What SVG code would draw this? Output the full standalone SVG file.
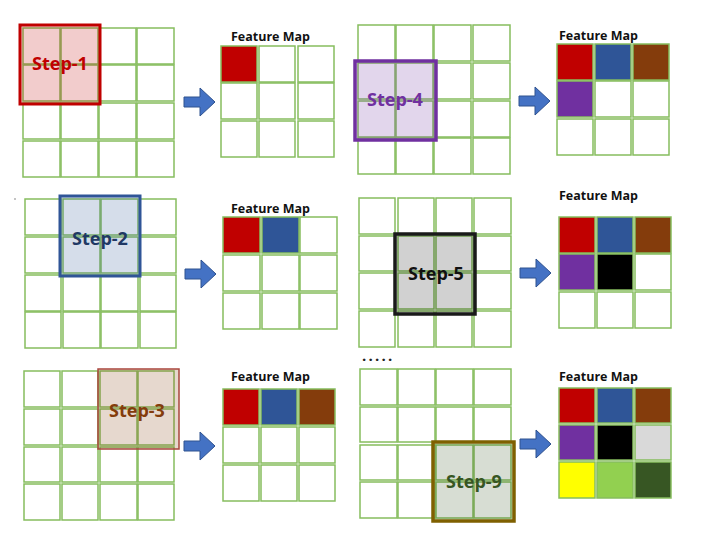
<svg xmlns="http://www.w3.org/2000/svg" xmlns:xlink="http://www.w3.org/1999/xlink" width="713" height="543" viewBox="0 0 713 543">
<defs>
<style>
.c{fill:#fff;stroke:#86bd5e;stroke-width:1.5}
.step{font-family:"Open Sans","Noto Sans",sans-serif;font-weight:700;font-size:18px;text-anchor:middle}
.fmt{font-family:"Open Sans","Noto Sans",sans-serif;font-weight:700;font-size:12.5px;fill:#111}
.arr{fill:#4472c4;stroke:#2f528f;stroke-width:1}
</style>
<path id="arrow" class="arr" d="M0,9 H16 V0 L31,14 L16,28 V19 H0 Z"/>
</defs>
<rect width="713" height="543" fill="#fff"/>

<g id="step1">
<g>
<rect class="c" x="23" y="28" width="37" height="36"/><rect class="c" x="61" y="28" width="37" height="36"/><rect class="c" x="99" y="28" width="37" height="36"/><rect class="c" x="137" y="28" width="37" height="36"/>
<rect class="c" x="23" y="65" width="37" height="36"/><rect class="c" x="61" y="65" width="37" height="36"/><rect class="c" x="99" y="65" width="37" height="36"/><rect class="c" x="137" y="65" width="37" height="36"/>
<rect class="c" x="23" y="103" width="37" height="36"/><rect class="c" x="61" y="103" width="37" height="36"/><rect class="c" x="99" y="103" width="37" height="36"/><rect class="c" x="137" y="103" width="37" height="36"/>
<rect class="c" x="23" y="141" width="37" height="36"/><rect class="c" x="61" y="141" width="37" height="36"/><rect class="c" x="99" y="141" width="37" height="36"/><rect class="c" x="137" y="141" width="37" height="36"/>
</g>
<rect x="20" y="25" width="80" height="79" fill="#c00000" fill-opacity="0.2" stroke="#c00000" stroke-width="3"/>
<text class="step" x="60" y="70" fill="#c00000">Step-1</text>
</g>

<g id="fm1">
<text class="fmt" x="231" y="41">Feature Map</text>
<rect class="c" x="221" y="46" width="36" height="36" style="fill:#c00000"/><rect class="c" x="259" y="46" width="36" height="36"/><rect class="c" x="298" y="46" width="36" height="36"/>
<rect class="c" x="221" y="83" width="36" height="36"/><rect class="c" x="259" y="83" width="36" height="36"/><rect class="c" x="298" y="83" width="36" height="36"/>
<rect class="c" x="221" y="121" width="36" height="36"/><rect class="c" x="259" y="121" width="36" height="36"/><rect class="c" x="298" y="121" width="36" height="36"/>
</g>

<g id="step4">
<g>
<rect class="c" x="358" y="25" width="37" height="36"/><rect class="c" x="396" y="25" width="37" height="36"/><rect class="c" x="434" y="25" width="37" height="36"/><rect class="c" x="473" y="25" width="37" height="36"/>
<rect class="c" x="358" y="63" width="37" height="36"/><rect class="c" x="396" y="63" width="37" height="36"/><rect class="c" x="434" y="63" width="37" height="36"/><rect class="c" x="473" y="63" width="37" height="36"/>
<rect class="c" x="358" y="101" width="37" height="36"/><rect class="c" x="396" y="101" width="37" height="36"/><rect class="c" x="434" y="101" width="37" height="36"/><rect class="c" x="473" y="101" width="37" height="36"/>
<rect class="c" x="358" y="138" width="37" height="36"/><rect class="c" x="396" y="138" width="37" height="36"/><rect class="c" x="434" y="138" width="37" height="36"/><rect class="c" x="473" y="138" width="37" height="36"/>
</g>
<rect x="355" y="61" width="81" height="79" fill="#7030a0" fill-opacity="0.2" stroke="#7030a0" stroke-width="3.5"/>
<text class="step" x="395" y="106" fill="#7030a0">Step-4</text>
</g>

<g id="fm4">
<text class="fmt" x="559" y="40">Feature Map</text>
<rect class="c" x="557" y="44" width="36" height="36" style="fill:#c00000"/><rect class="c" x="595" y="44" width="36" height="36" style="fill:#2f5597"/><rect class="c" x="633" y="44" width="36" height="36" style="fill:#843c0c"/>
<rect class="c" x="557" y="81" width="36" height="36" style="fill:#7030a0"/><rect class="c" x="595" y="81" width="36" height="36"/><rect class="c" x="633" y="81" width="36" height="36"/>
<rect class="c" x="557" y="119" width="36" height="36"/><rect class="c" x="595" y="119" width="36" height="36"/><rect class="c" x="633" y="119" width="36" height="36"/>
</g>

<circle cx="15" cy="199" r="1" fill="#b0b0b0"/>

<g id="step2">
<g>
<rect class="c" x="25" y="199" width="36" height="36"/><rect class="c" x="63" y="199" width="37" height="36"/><rect class="c" x="101" y="199" width="37" height="36"/><rect class="c" x="140" y="199" width="36" height="36"/>
<rect class="c" x="25" y="237" width="36" height="36"/><rect class="c" x="63" y="237" width="37" height="36"/><rect class="c" x="101" y="237" width="37" height="36"/><rect class="c" x="140" y="237" width="36" height="36"/>
<rect class="c" x="25" y="275" width="36" height="36"/><rect class="c" x="63" y="275" width="37" height="36"/><rect class="c" x="101" y="275" width="37" height="36"/><rect class="c" x="140" y="275" width="36" height="36"/>
<rect class="c" x="25" y="312" width="36" height="36"/><rect class="c" x="63" y="312" width="37" height="36"/><rect class="c" x="101" y="312" width="37" height="36"/><rect class="c" x="140" y="312" width="36" height="36"/>
</g>
<rect x="60" y="196" width="80" height="80" fill="#2f5597" fill-opacity="0.2" stroke="#2f5597" stroke-width="3"/>
<text class="step" x="100" y="245" fill="#203864">Step-2</text>
</g>

<g id="fm2">
<text class="fmt" x="231" y="213">Feature Map</text>
<rect class="c" x="223" y="217" width="37" height="36" style="fill:#c00000"/><rect class="c" x="262" y="217" width="37" height="36" style="fill:#2f5597"/><rect class="c" x="300" y="217" width="37" height="36"/>
<rect class="c" x="223" y="255" width="37" height="36"/><rect class="c" x="262" y="255" width="37" height="36"/><rect class="c" x="300" y="255" width="37" height="36"/>
<rect class="c" x="223" y="293" width="37" height="36"/><rect class="c" x="262" y="293" width="37" height="36"/><rect class="c" x="300" y="293" width="37" height="36"/>
</g>

<g id="step5">
<g>
<rect class="c" x="359" y="198" width="36" height="36"/><rect class="c" x="398" y="198" width="36" height="36"/><rect class="c" x="436" y="198" width="36" height="36"/><rect class="c" x="474" y="198" width="37" height="36"/>
<rect class="c" x="359" y="236" width="36" height="35"/><rect class="c" x="398" y="236" width="36" height="35"/><rect class="c" x="436" y="236" width="36" height="35"/><rect class="c" x="474" y="236" width="37" height="35"/>
<rect class="c" x="359" y="273" width="36" height="36"/><rect class="c" x="398" y="273" width="36" height="36"/><rect class="c" x="436" y="273" width="36" height="36"/><rect class="c" x="474" y="273" width="37" height="36"/>
<rect class="c" x="359" y="311" width="36" height="36"/><rect class="c" x="398" y="311" width="36" height="36"/><rect class="c" x="436" y="311" width="36" height="36"/><rect class="c" x="474" y="311" width="37" height="36"/>
</g>
<rect x="395" y="234" width="80" height="80" fill="#000" fill-opacity="0.18" stroke="#1a1a1a" stroke-width="3.5"/>
<text class="step" x="436" y="280" fill="#111">Step-5</text>
<text x="362" y="361" font-family="Open Sans, Noto Sans, sans-serif" font-weight="700" font-size="15" letter-spacing="2.2" fill="#222">.....</text>
</g>

<g id="fm5">
<text class="fmt" x="559" y="200">Feature Map</text>
<rect class="c" x="559" y="217" width="36" height="36" style="fill:#c00000"/><rect class="c" x="597" y="217" width="36" height="36" style="fill:#2f5597"/><rect class="c" x="635" y="217" width="36" height="36" style="fill:#843c0c"/>
<rect class="c" x="559" y="254" width="36" height="36" style="fill:#7030a0"/><rect class="c" x="597" y="254" width="36" height="36" style="fill:#000"/><rect class="c" x="635" y="254" width="36" height="36"/>
<rect class="c" x="559" y="292" width="36" height="36"/><rect class="c" x="597" y="292" width="36" height="36"/><rect class="c" x="635" y="292" width="36" height="36"/>
</g>

<g id="step3">
<g>
<rect class="c" x="24" y="371" width="36" height="36"/><rect class="c" x="62" y="371" width="36" height="36"/><rect class="c" x="100" y="371" width="37" height="36"/><rect class="c" x="138" y="371" width="36" height="36"/>
<rect class="c" x="24" y="409" width="36" height="36"/><rect class="c" x="62" y="409" width="36" height="36"/><rect class="c" x="100" y="409" width="37" height="36"/><rect class="c" x="138" y="409" width="36" height="36"/>
<rect class="c" x="24" y="447" width="36" height="35"/><rect class="c" x="62" y="447" width="36" height="35"/><rect class="c" x="100" y="447" width="37" height="35"/><rect class="c" x="138" y="447" width="36" height="35"/>
<rect class="c" x="24" y="484" width="36" height="36"/><rect class="c" x="62" y="484" width="36" height="36"/><rect class="c" x="100" y="484" width="37" height="36"/><rect class="c" x="138" y="484" width="36" height="36"/>
</g>
<rect x="98" y="369" width="81" height="80" fill="#843c0c" fill-opacity="0.2" stroke="#a9463d" stroke-width="1.5"/>
<text class="step" x="137" y="417" fill="#843c0c">Step-3</text>
</g>

<g id="fm3">
<text class="fmt" x="231" y="381">Feature Map</text>
<rect class="c" x="223" y="389" width="36" height="36" style="fill:#c00000"/><rect class="c" x="261" y="389" width="36" height="36" style="fill:#2f5597"/><rect class="c" x="299" y="389" width="36" height="36" style="fill:#843c0c"/>
<rect class="c" x="223" y="427" width="36" height="36"/><rect class="c" x="261" y="427" width="36" height="36"/><rect class="c" x="299" y="427" width="36" height="36"/>
<rect class="c" x="223" y="465" width="36" height="36"/><rect class="c" x="261" y="465" width="36" height="36"/><rect class="c" x="299" y="465" width="36" height="36"/>
</g>

<g id="step9">
<g>
<rect class="c" x="360" y="369" width="37" height="36"/><rect class="c" x="398" y="369" width="37" height="36"/><rect class="c" x="436" y="369" width="37" height="36"/><rect class="c" x="474" y="369" width="37" height="36"/>
<rect class="c" x="360" y="407" width="37" height="35"/><rect class="c" x="398" y="407" width="37" height="35"/><rect class="c" x="436" y="407" width="37" height="35"/><rect class="c" x="474" y="407" width="37" height="35"/>
<rect class="c" x="360" y="445" width="37" height="35"/><rect class="c" x="398" y="445" width="37" height="35"/><rect class="c" x="436" y="445" width="37" height="35"/><rect class="c" x="474" y="445" width="37" height="35"/>
<rect class="c" x="360" y="482" width="37" height="36"/><rect class="c" x="398" y="482" width="37" height="36"/><rect class="c" x="436" y="482" width="37" height="36"/><rect class="c" x="474" y="482" width="37" height="36"/>
</g>
<rect x="433" y="442" width="81" height="79" fill="#375623" fill-opacity="0.2" stroke="#7f6000" stroke-width="3.5"/>
<text class="step" x="474" y="488" fill="#375623">Step-9</text>
</g>

<g id="fm9">
<text class="fmt" x="559" y="381">Feature Map</text>
<rect class="c" x="559" y="388" width="36" height="35" style="fill:#c00000"/><rect class="c" x="597" y="388" width="36" height="35" style="fill:#2f5597"/><rect class="c" x="635" y="388" width="36" height="35" style="fill:#843c0c"/>
<rect class="c" x="559" y="425" width="36" height="35" style="fill:#7030a0"/><rect class="c" x="597" y="425" width="36" height="35" style="fill:#000"/><rect class="c" x="635" y="425" width="36" height="35" style="fill:#d9d9d9"/>
<rect class="c" x="559" y="462" width="36" height="36" style="fill:#ffff00"/><rect class="c" x="597" y="462" width="36" height="36" style="fill:#92d050"/><rect class="c" x="635" y="462" width="36" height="36" style="fill:#375623"/>
</g>

<g id="connectors">
<use xlink:href="#arrow" x="184" y="88"/>
<use xlink:href="#arrow" x="519" y="87"/>
<use xlink:href="#arrow" x="185" y="260"/>
<use xlink:href="#arrow" x="520" y="259"/>
<use xlink:href="#arrow" x="184" y="432"/>
<use xlink:href="#arrow" x="520" y="430"/>
</g>
</svg>
